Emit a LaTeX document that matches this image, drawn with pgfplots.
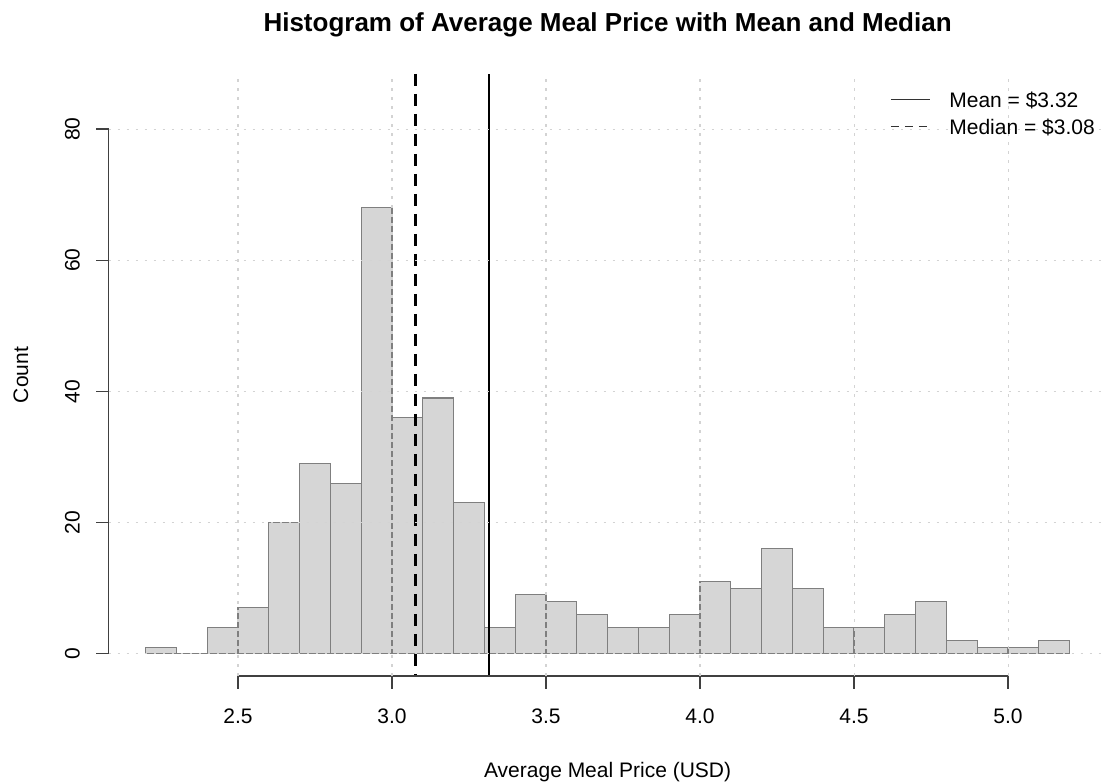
\documentclass[border=0pt]{standalone}
\usepackage{pgfplots}
\pgfplotsset{compat=1.18}
\usepackage{fontspec}
\setmainfont{Liberation Sans}
\definecolor{barfill}{HTML}{D6D6D6}
\definecolor{barline}{HTML}{7F7F7F}
\definecolor{gridc}{HTML}{D3D3D3}
\begin{document}
\begin{tikzpicture}
\useasboundingbox (0bp,0bp) rectangle (1105bp,783bp);
\begin{axis}[
  at={(108.6bp,107bp)}, anchor=south west,
  scale only axis, width=998bp, height=602bp,
  xmin=2.08, xmax=5.32, ymin=-3.4, ymax=88.4,
  clip=false, axis on top,
  axis x line*=bottom, axis y line*=left,
  axis line style={draw=none},
  xtick={2.5,3.0,3.5,4.0,4.5,5.0},
  xticklabels={2.5,3.0,3.5,4.0,4.5,5.0},
  ytick={0,20,40,60,80},
  yticklabels={0,20,40,60,80},
  tick align=outside, major tick length=12.5bp,
  tick style={line width=1.3bp, color=black!75},
  minor tick num=0,
  grid=major,
  grid style={color=gridc, line width=1.1bp, dash pattern=on 2.5bp off 6.5bp},
  ticklabel style={font=\fontsize{21bp}{24bp}\selectfont},
  /pgf/number format/assume math mode=true,
  xticklabel style={anchor=base, yshift=-34.5bp},
  yticklabel style={rotate=90, anchor=base, yshift=16.6bp},
  title={Histogram of Average Meal Price with Mean and Median},
  title style={at={([yshift=37bp]axis description cs:0.5,1)}, anchor=base, font=\bfseries\fontsize{26bp}{30bp}\selectfont},
  xlabel={Average Meal Price (USD)},
  xlabel style={at={([yshift=-101bp]axis description cs:0.5,0)}, anchor=base, font=\fontsize{21bp}{24bp}\selectfont},
  ylabel={Count},
  ylabel style={at={([xshift=-80.6bp]axis description cs:0,0.5)}, rotate=0, anchor=base, font=\fontsize{21bp}{24bp}\selectfont},
  legend style={at={(0.783,0.9684)}, anchor=north west, draw=none, fill=none, inner sep=0pt, row sep=9bp, column sep=19bp, font=\fontsize{21bp}{24bp}\selectfont, nodes={inner sep=0pt, text height=14bp, text depth=4bp}},
  legend cell align=left,
  legend image code/.code={\draw[#1, line width=1.1bp] (0bp,3bp) -- (39bp,3bp);},
]
\addplot[ybar interval, fill=barfill, draw=barline, line width=1.2bp, forget plot] coordinates {
(2.2,1) (2.3,0) (2.4,4) (2.5,7) (2.6,20) (2.7,29) (2.8,26) (2.9,68) (3.0,36) (3.1,39)
(3.2,23) (3.3,4) (3.4,9) (3.5,8) (3.6,6) (3.7,4) (3.8,4) (3.9,6) (4.0,11) (4.1,10)
(4.2,16) (4.3,10) (4.4,4) (4.5,4) (4.6,6) (4.7,8) (4.8,2) (4.9,1) (5.0,1) (5.1,2) (5.2,0)
};
\addplot[black, line width=2.7bp, legend image post style={black!80, line width=1.1bp}] coordinates {(3.315,-3.4) (3.315,88.4)};
\addplot[black, line width=2.7bp, dash pattern=on 12bp off 8bp, legend image post style={black!80, line width=1.1bp, dash pattern=on 8bp off 6bp}] coordinates {(3.076,88.4) (3.076,-3.4)};
\legend{Mean = \$3.32, Median = \$3.08}
\draw[line width=1.3bp, black!75] (axis cs:2.5,-3.4) -- (axis cs:5.0,-3.4);
\draw[line width=1.3bp, black!75] (axis cs:2.08,0) -- (axis cs:2.08,80);
\end{axis}
\end{tikzpicture}
\end{document}
